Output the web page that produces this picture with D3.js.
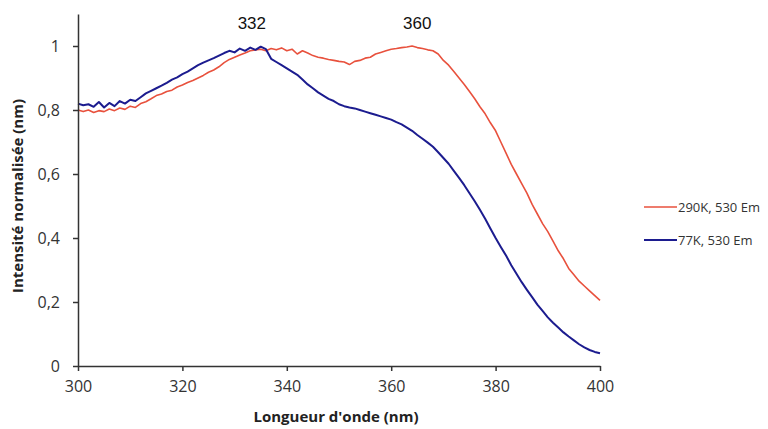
<!DOCTYPE html>
<html lang="fr">
<head>
    <meta charset="UTF-8">
    <title>Intensité normalisée</title>
    <script src="https://d3js.org/d3.v7.min.js"></script>
    <style>
        body { margin: 0; background: #fff; }
        .tick text { font-family: "Open Sans", sans-serif; font-size: 16px; fill: #333; }
        .axis-title { font-family: "Open Sans", sans-serif; font-size: 15px; font-weight: bold; fill: #222; }
        .peak { font-family: Arial, "Liberation Sans", sans-serif; font-size: 17px; fill: #111; }
        .legend text { font-family: "Open Sans", sans-serif; font-size: 13px; fill: #333; }
    </style>
</head>
<body>
<div id="chart"></div>
<script>
    const width = 768;
    const height = 429;

    // wavelength 300..400 nm, 1 nm steps
    const wavelengths = d3.range(300, 401);

    const red290 = [
        0.800, 0.795, 0.800, 0.792, 0.798, 0.795, 0.803, 0.798, 0.806, 0.802,
        0.812, 0.808, 0.820, 0.826, 0.835, 0.845, 0.850, 0.858, 0.862, 0.872,
        0.878, 0.886, 0.892, 0.900, 0.908, 0.918, 0.925, 0.935, 0.948, 0.958,
        0.965, 0.972, 0.978, 0.985, 0.988, 0.990, 0.985, 0.992, 0.988, 0.994,
        0.985, 0.990, 0.975, 0.985, 0.978, 0.970, 0.965, 0.962, 0.958, 0.955,
        0.952, 0.950, 0.942, 0.952, 0.955, 0.962, 0.965, 0.975, 0.980, 0.985,
        0.990, 0.992, 0.995, 0.997, 1.000, 0.995, 0.992, 0.988, 0.985, 0.975,
        0.955, 0.940, 0.920, 0.900, 0.880, 0.858, 0.835, 0.810, 0.788, 0.760,
        0.735, 0.700, 0.665, 0.630, 0.600, 0.570, 0.540, 0.505, 0.475, 0.445,
        0.420, 0.390, 0.360, 0.335, 0.305, 0.285, 0.265, 0.250, 0.235, 0.220,
        0.205
    ];

    const blue77 = [
        0.820, 0.815, 0.818, 0.810, 0.825, 0.808, 0.822, 0.812, 0.828, 0.820,
        0.832, 0.828, 0.840, 0.852, 0.860, 0.868, 0.876, 0.885, 0.895, 0.902,
        0.912, 0.920, 0.930, 0.940, 0.948, 0.955, 0.962, 0.970, 0.978, 0.985,
        0.980, 0.992, 0.985, 0.995, 0.988, 0.998, 0.990, 0.960, 0.950, 0.940,
        0.930, 0.920, 0.910, 0.895, 0.880, 0.868, 0.855, 0.845, 0.835, 0.828,
        0.818, 0.812, 0.808, 0.805, 0.800, 0.795, 0.790, 0.785, 0.780, 0.775,
        0.770, 0.762, 0.755, 0.745, 0.735, 0.722, 0.710, 0.698, 0.685, 0.668,
        0.650, 0.632, 0.610, 0.588, 0.565, 0.540, 0.515, 0.488, 0.460, 0.430,
        0.400, 0.372, 0.345, 0.315, 0.288, 0.262, 0.238, 0.215, 0.192, 0.172,
        0.152, 0.135, 0.120, 0.105, 0.092, 0.080, 0.068, 0.058, 0.050, 0.044,
        0.040
    ];

    const xTicks = [300, 320, 340, 360, 380, 400];
    const yTicks = [0, 0.2, 0.4, 0.6, 0.8, 1];
    const peaks = [
        { label: "332", x: 333.3 },
        { label: "360", x: 365 }
    ];
    const series = [
        { name: "290K, 530 Em", values: red290, color: "#e8513d", width: 1.6 },
        { name: "77K, 530 Em", values: blue77, color: "#1c1c8f", width: 2 }
    ];

    const margin = { left: 78, right: 168, top: 14, bottom: 63 };

    const x = d3.scaleLinear().domain([300, 400]).range([margin.left, width - margin.right]);
    const y = d3.scaleLinear().domain([0, 1.1]).range([height - margin.bottom, margin.top]);

    const svg = d3.select("#chart").append("svg")
        .attr("width", width)
        .attr("height", height);

    const fmt = d => String(d).replace(".", ",");

    const line = d3.line()
        .x((d, i) => x(wavelengths[i]))
        .y(d => y(d));

    series.forEach(s => {
        svg.append("path")
            .datum(s.values)
            .attr("fill", "none")
            .attr("stroke", s.color)
            .attr("stroke-width", s.width)
            .attr("stroke-linejoin", "round")
            .attr("d", line);
    });

    const xAxis = svg.append("g")
        .attr("transform", `translate(0,${y(0)})`)
        .call(d3.axisBottom(x).tickValues(xTicks).tickSize(5).tickPadding(10).tickSizeOuter(0));
    const yAxis = svg.append("g")
        .attr("transform", `translate(${x(300)},0)`)
        .call(d3.axisLeft(y).tickValues(yTicks).tickFormat(fmt).tickSize(5).tickPadding(13).tickSizeOuter(0));

    [xAxis, yAxis].forEach(g => {
        g.select(".domain").attr("stroke", "#333").attr("stroke-width", 1.5);
        g.selectAll(".tick line").attr("stroke", "#333").attr("stroke-width", 1.5);
    });

    svg.append("text")
        .attr("class", "axis-title")
        .attr("x", 336)
        .attr("y", 422)
        .attr("text-anchor", "middle")
        .text("Longueur d'onde (nm)");

    svg.append("text")
        .attr("class", "axis-title")
        .attr("transform", `translate(23,196) rotate(-90)`)
        .attr("text-anchor", "middle")
        .text("Intensité normalisée (nm)");

    svg.selectAll(".peak")
        .data(peaks)
        .enter()
        .append("text")
        .attr("class", "peak")
        .attr("x", d => x(d.x))
        .attr("y", 29)
        .attr("text-anchor", "middle")
        .text(d => d.label);

    const legend = svg.append("g").attr("class", "legend")
        .attr("transform", "translate(644,207)");
    const items = legend.selectAll("g")
        .data(series)
        .enter()
        .append("g")
        .attr("transform", (d, i) => `translate(0,${i * 33})`);
    items.append("line")
        .attr("x1", 0).attr("x2", 33)
        .attr("stroke", d => d.color)
        .attr("stroke-width", d => d.width);
    items.append("text")
        .attr("x", 34)
        .attr("dy", "0.35em")
        .text(d => d.name);
</script>
</body>
</html>
